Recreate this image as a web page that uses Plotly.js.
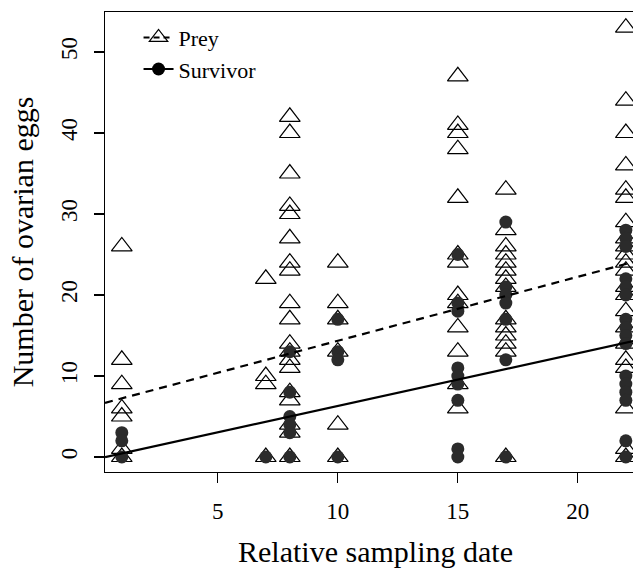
<!DOCTYPE html>
<html>
<head>
<meta charset="utf-8">
<script src="https://cdn.plot.ly/plotly-3.0.1.min.js"></script>
<style>
html,body{margin:0;padding:0;overflow:hidden;background:#fff;}
#chart{width:660px;height:568px;}
</style>
</head>
<body>
<div id="chart"></div>
<script>
// Prey (open triangles)
const preyX = [
  1,1,1,1,1,1,1,
  7,7,7,7,
  8,8,8,8,8,8,8,8,8,8,8,8,8,8,8,8,8,8,8,
  10,10,10,10,10,10,
  15,15,15,15,15,15,15,15,15,15,15,15,15,
  17,17,17,17,17,17,17,17,17,17,17,17,17,17,
  22,22,22,22,22,22,22,22,22,22,22,22,22,22,22,22,22,22,22,22,22,22
];
const preyY = [
  26,12,9,6,5,1,0,
  22,10,9,0,
  42,40,35,31,30,27,24,23,19,17,14,13,12,11,8,7,4,3,0,
  24,19,17,13,4,0,
  47,41,40,38,32,25,24,20,19,16,13,9,6,
  33,28,26,25,24,23,22,21,17,16,15,14,13,0,
  53,44,40,36,33,32,29,27,26,25,24,23,21,20,18,16,14,12,11,6,1,0
];
// Survivor (filled circles)
const survX = [
  1,1,1,
  7,
  8,8,8,8,8,8,
  10,10,10,10,
  15,15,15,15,15,15,15,15,15,
  17,17,17,17,17,17,17,
  22,22,22,22,22,22,22,22,22,22,22,22,22,22,22,22
];
const survY = [
  3,2,0,
  0,
  13,8,5,4,3,0,
  17,13,12,0,
  25,19,18,11,10,9,7,1,0,
  29,21,20,19,17,12,0,
  28,27,26,22,21,20,17,16,15,14,10,9,8,7,2,0
];
// regression coefficients [intercept, slope]
const preyFit = [6.45, 0.79];
const survFit = [-0.2, 0.65];
const seriesNames = ["Prey", "Survivor"];
const xTicks = [5, 10, 15, 20];
const yTicks = [0, 10, 20, 30, 40, 50];

const xRange = [0.3, 22.84];
const yRange = [-1.85, 54.94];
const FONT = "Liberation Serif, Times New Roman, serif";
const INK = "#000";
const DOT = "#2b2b2b";

function fitLine(c) {
  return { x: xRange.slice(), y: xRange.map(v => c[0] + c[1] * v) };
}
const pl = fitLine(preyFit), sl = fitLine(survFit);

const traces = [
  { type: "scatter", mode: "markers", x: preyX, y: preyY, showlegend: false, cliponaxis: true,
    marker: { symbol: "triangle-up-open", size: 18, color: INK, line: { width: 1.2, color: INK } } },
  { type: "scatter", mode: "markers", x: survX, y: survY, showlegend: false, cliponaxis: true,
    marker: { symbol: "circle", size: 13, color: DOT, line: { width: 0 } } },
  { type: "scatter", mode: "lines", x: pl.x, y: pl.y, showlegend: false,
    line: { color: INK, width: 2.2, dash: "8px,6px" } },
  { type: "scatter", mode: "lines", x: sl.x, y: sl.y, showlegend: false,
    line: { color: INK, width: 2.2 } },
  // legend entries
  { type: "scatter", mode: "lines+markers", x: [null], y: [null], name: seriesNames[0],
    marker: { symbol: "triangle-up-open", size: 17, color: INK, line: { width: 1.2, color: INK } },
    line: { color: INK, width: 2, dash: "6px,4px" } },
  { type: "scatter", mode: "lines+markers", x: [null], y: [null], name: seriesNames[1],
    marker: { symbol: "circle", size: 13, color: "#000" },
    line: { color: INK, width: 2 } }
];

const layout = {
  width: 660, height: 568,
  margin: { l: 105, r: 14, t: 12, b: 96 },
  paper_bgcolor: "#fff", plot_bgcolor: "#fff",
  font: { family: FONT, color: INK, size: 20 },
  showlegend: true,
  legend: { x: 0.062, y: 0.99, xanchor: "left", yanchor: "top", bgcolor: "rgba(0,0,0,0)",
            font: { family: FONT, size: 22, color: INK }, tracegroupgap: 0, itemwidth: 30 },
  xaxis: {
    range: xRange, tickvals: xTicks, ticktext: xTicks.map(String),
    showgrid: false, zeroline: false, showline: true, mirror: true, linecolor: INK, linewidth: 1.3,
    ticks: "outside", ticklen: 10, tickwidth: 1.2, tickcolor: INK, ticklabelstandoff: 8,
    tickfont: { family: FONT, size: 23, color: INK },
    title: { text: "Relative sampling date", font: { family: FONT, size: 30, color: INK }, standoff: 28 }
  },
  yaxis: {
    range: yRange, tickvals: yTicks, ticktext: yTicks.map(String), tickangle: -90,
    showgrid: false, zeroline: false, showline: true, mirror: true, linecolor: INK, linewidth: 1.3,
    ticks: "outside", ticklen: 10, tickwidth: 1.2, tickcolor: INK, ticklabelstandoff: 8,
    tickfont: { family: FONT, size: 23, color: INK },
    title: { text: "Number of ovarian eggs", font: { family: FONT, size: 30, color: INK }, standoff: 14 }
  }
};

Plotly.newPlot("chart", traces, layout, { staticPlot: true, displayModeBar: false });
</script>
</body>
</html>
